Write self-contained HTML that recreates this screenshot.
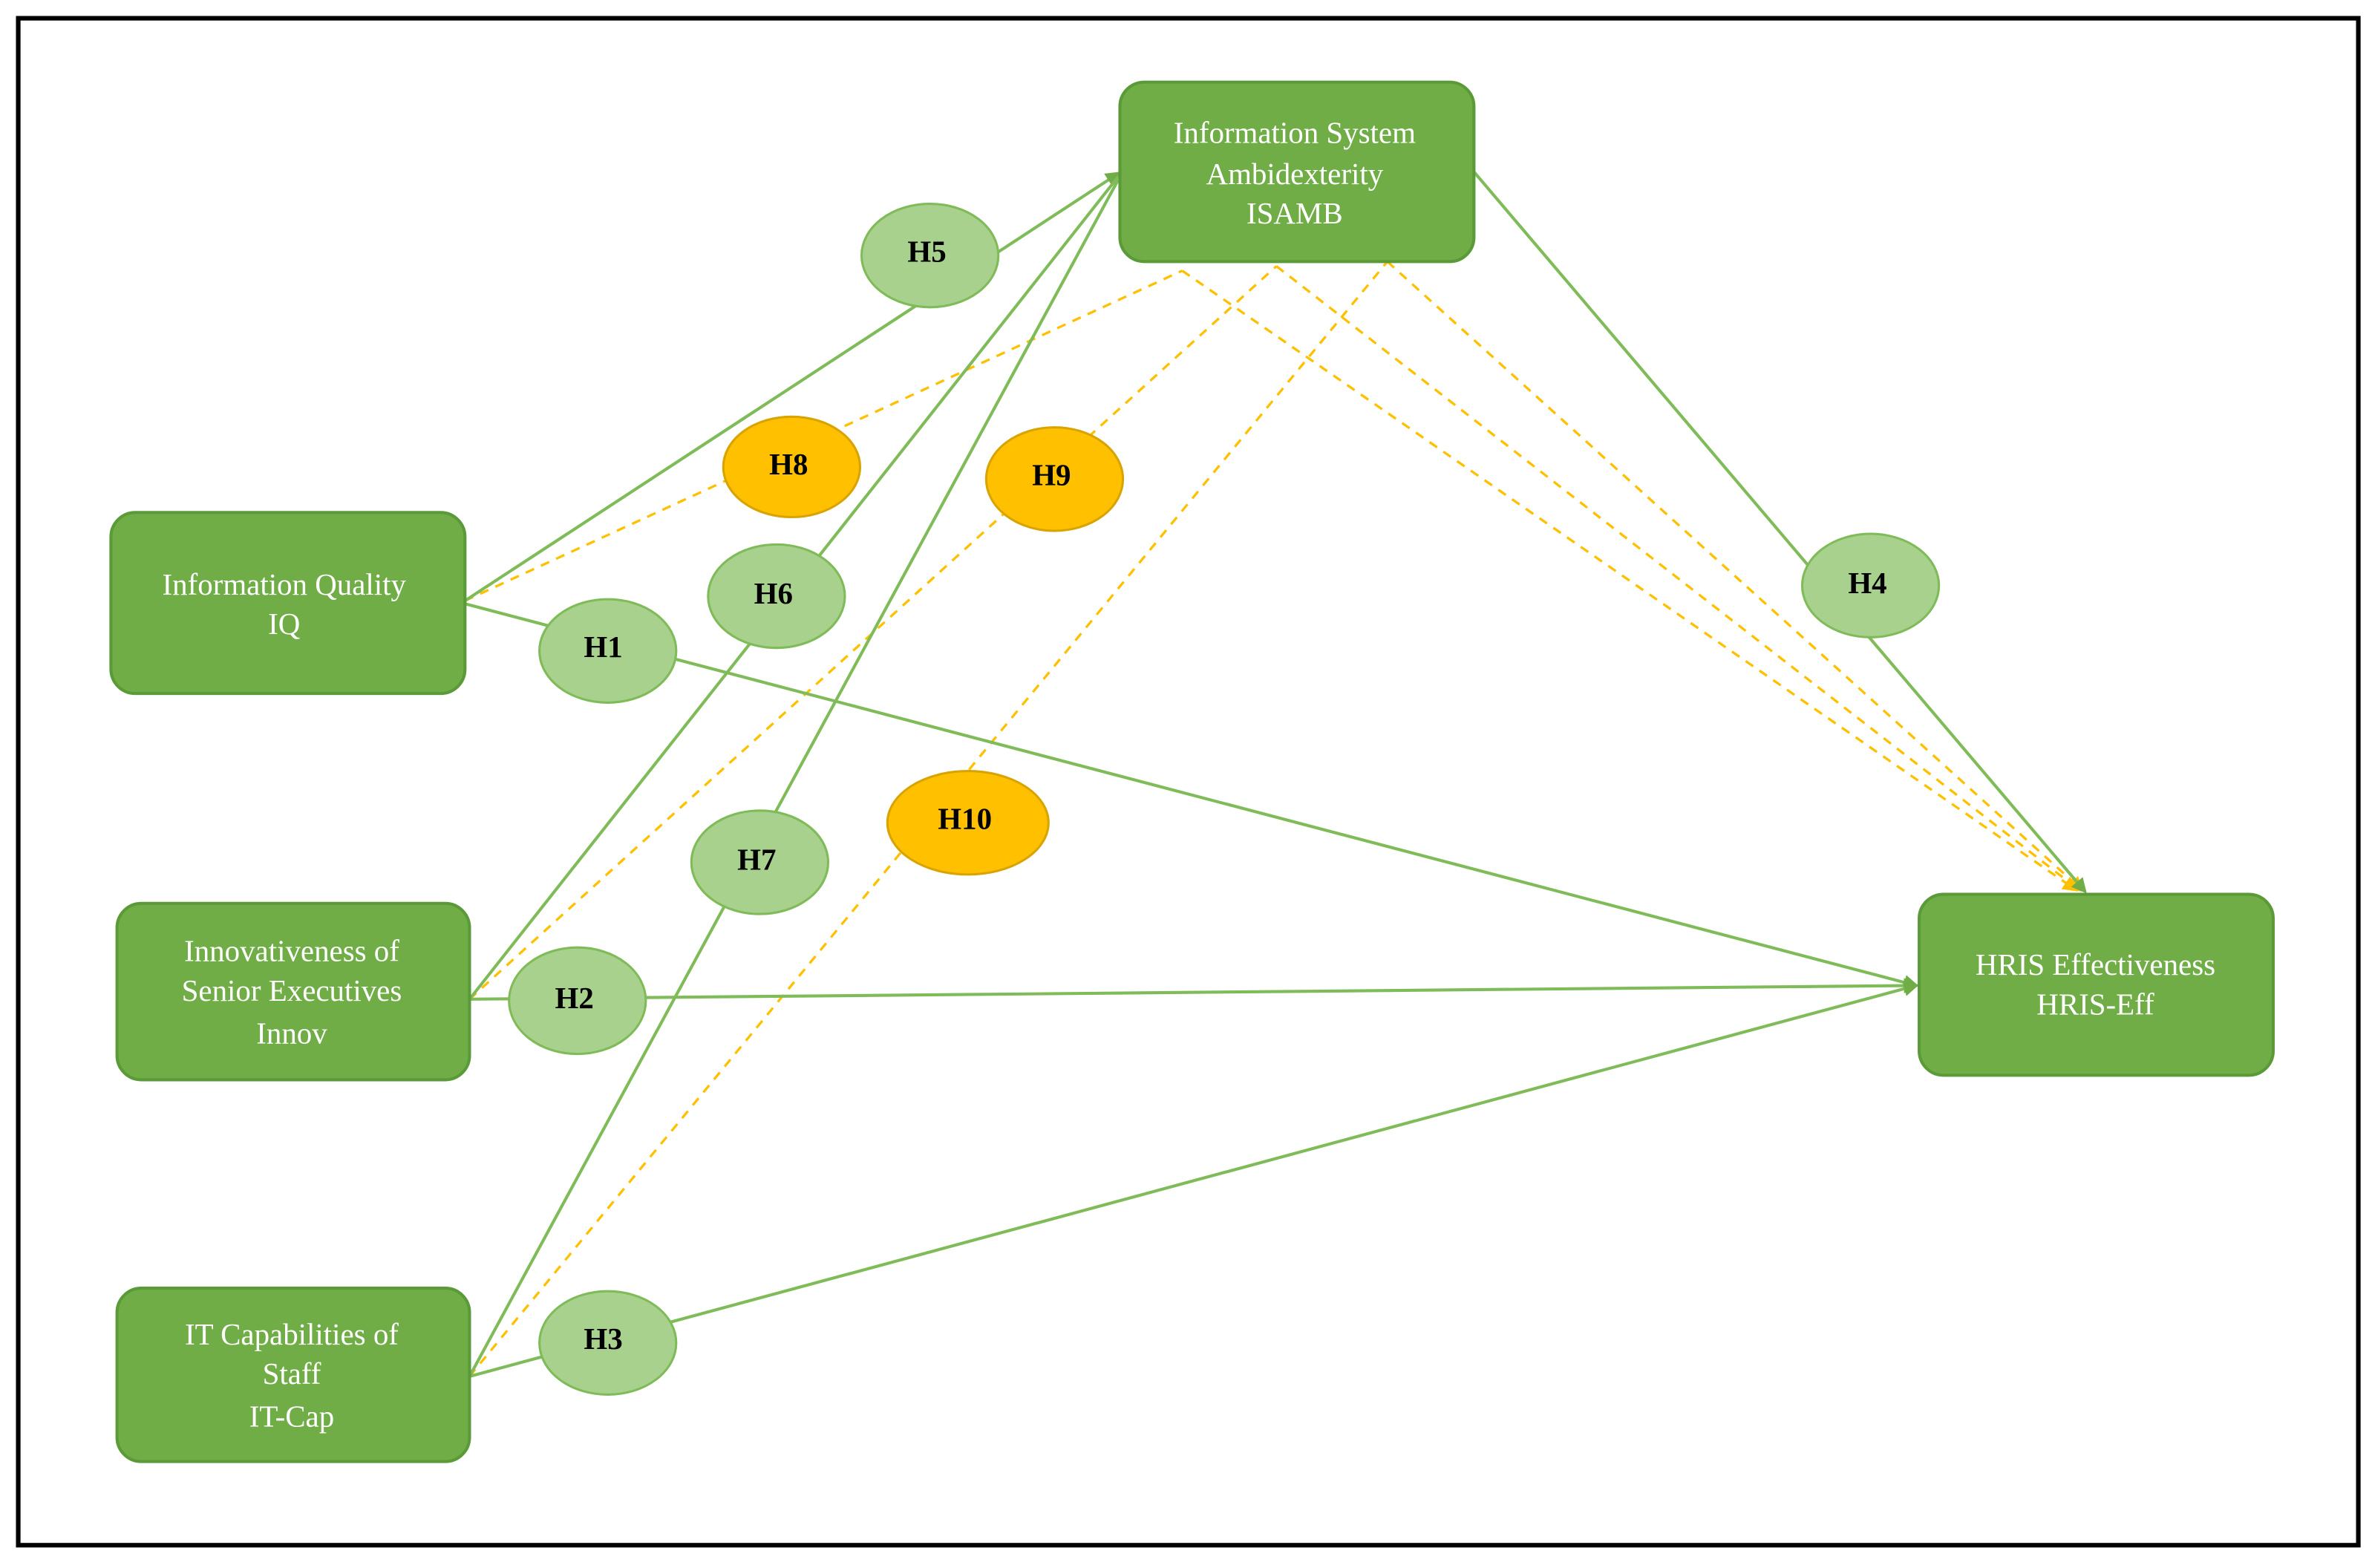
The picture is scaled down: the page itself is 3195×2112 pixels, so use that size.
<!DOCTYPE html>
<html><head><style>
html,body{margin:0;padding:0;background:#fff;}
svg{display:block;}
text{font-family:"Liberation Serif",serif;}
</style></head><body>
<svg width="3195" height="2112" viewBox="0 0 1561 1031" preserveAspectRatio="none" xmlns="http://www.w3.org/2000/svg">
<defs>
<marker id="ag" markerWidth="10" markerHeight="10" refX="8" refY="5" orient="auto" markerUnits="userSpaceOnUse"><path d="M0,0 L10,5 L0,10 z" fill="#70ad47"/></marker>
<marker id="ao" markerWidth="10" markerHeight="10" refX="8" refY="5" orient="auto" markerUnits="userSpaceOnUse"><path d="M0,0 L10,5 L0,10 z" fill="#ffc000"/></marker>
</defs>
<rect x="12" y="12" width="1540" height="1004" fill="#fff" stroke="#000" stroke-width="3"/>
<g stroke="#ffc000" stroke-width="1.6" stroke-dasharray="6,5" fill="none">
<line x1="306" y1="395" x2="778" y2="178"/>
<line x1="309" y1="657" x2="840" y2="175"/>
<line x1="309" y1="905" x2="913" y2="172"/>
<line x1="778" y1="178" x2="1366" y2="585" marker-end="url(#ao)"/>
<line x1="840" y1="175" x2="1368" y2="585" marker-end="url(#ao)"/>
<line x1="913" y1="172" x2="1370" y2="585" marker-end="url(#ao)"/>
</g>
<g stroke="#7fbb58" stroke-width="2" fill="none">
<line x1="306" y1="395" x2="736" y2="114" marker-end="url(#ag)"/>
<line x1="309" y1="657" x2="736" y2="116"/>
<line x1="309" y1="905" x2="736" y2="118"/>
<line x1="306" y1="397" x2="1261" y2="648" marker-end="url(#ag)"/>
<line x1="309" y1="657" x2="1261" y2="648" marker-end="url(#ag)"/>
<line x1="309" y1="905" x2="1261" y2="648" marker-end="url(#ag)"/>
<line x1="970" y1="113" x2="1372" y2="586" marker-end="url(#ag)"/>
</g>
<g fill="#70ad47" stroke="#5a9a38" stroke-width="2">
<rect x="737" y="54" width="233" height="118" rx="16"/>
<rect x="73" y="337" width="233" height="119" rx="16"/>
<rect x="77" y="594" width="232" height="116" rx="16"/>
<rect x="77" y="847" width="232" height="114" rx="16"/>
<rect x="1263" y="588" width="233" height="119" rx="16"/>
</g>
<g fill="#fff" font-size="20" text-anchor="middle">
<text x="852" y="94">Information System</text>
<text x="852" y="121">Ambidexterity</text>
<text x="852" y="147">ISAMB</text>
<text x="187" y="391">Information Quality</text>
<text x="187" y="417">IQ</text>
<text x="192" y="632">Innovativeness of</text>
<text x="192" y="658">Senior Executives</text>
<text x="192" y="686">Innov</text>
<text x="192" y="884">IT Capabilities of</text>
<text x="192" y="910">Staff</text>
<text x="192" y="938">IT-Cap</text>
<text x="1379" y="641">HRIS Effectiveness</text>
<text x="1379" y="667">HRIS-Eff</text>
</g>
<g stroke="#7fbb58" stroke-width="1.5" fill="#a9d18e">
<ellipse cx="612" cy="168" rx="45" ry="34"/>
<ellipse cx="511" cy="392" rx="45" ry="34"/>
<ellipse cx="400" cy="428" rx="45" ry="34"/>
<ellipse cx="1231" cy="385" rx="45" ry="34"/>
<ellipse cx="500" cy="567" rx="45" ry="34"/>
<ellipse cx="380" cy="658" rx="45" ry="35"/>
<ellipse cx="400" cy="883" rx="45" ry="34"/>
</g>
<g stroke="#d9a400" stroke-width="1.5" fill="#ffc000">
<ellipse cx="521" cy="307" rx="45" ry="33"/>
<ellipse cx="694" cy="315" rx="45" ry="34"/>
<ellipse cx="637" cy="541" rx="53" ry="34"/>
</g>
<g fill="#000" font-size="20" font-weight="bold" text-anchor="middle">
<text x="610" y="172">H5</text>
<text x="519" y="312">H8</text>
<text x="692" y="319">H9</text>
<text x="509" y="397">H6</text>
<text x="397" y="432">H1</text>
<text x="1229" y="390">H4</text>
<text x="498" y="572">H7</text>
<text x="635" y="545">H10</text>
<text x="378" y="663">H2</text>
<text x="397" y="887">H3</text>
</g>
</svg>
</body></html>
